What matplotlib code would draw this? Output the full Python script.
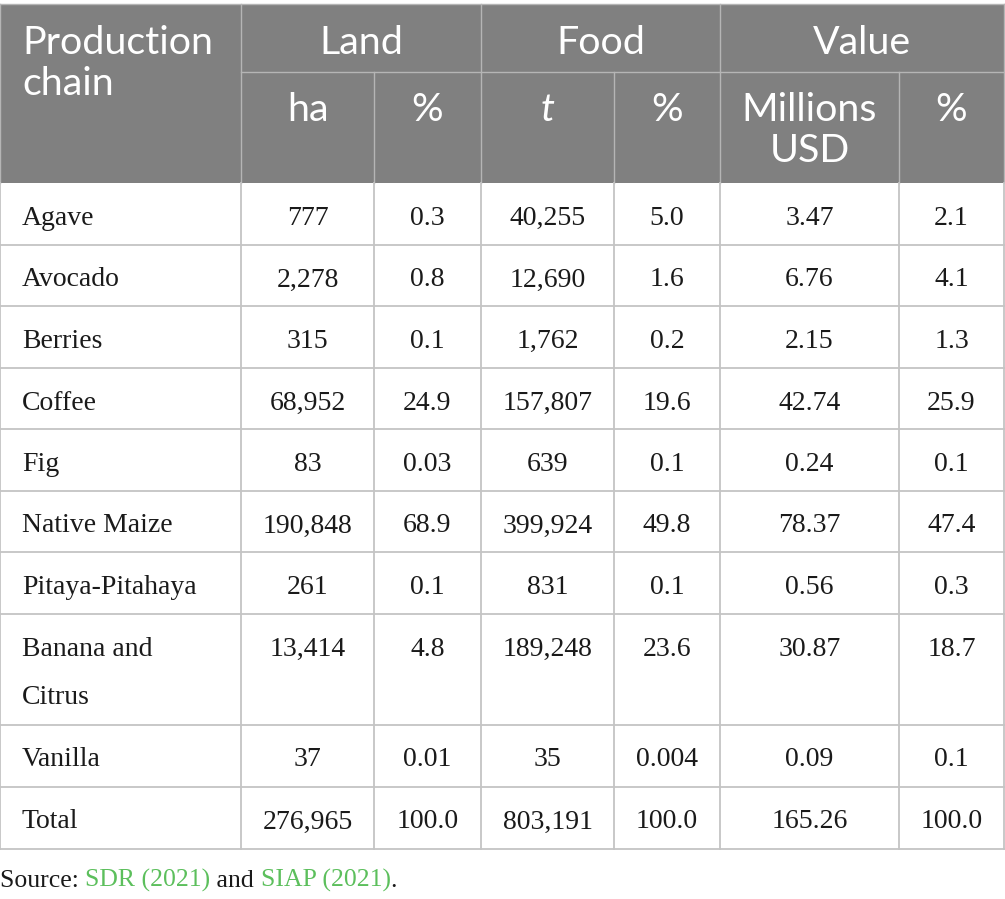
import matplotlib.pyplot as plt
from matplotlib.patches import Rectangle

# table data
chains = ["Agave", "Avocado", "Berries", "Coffee", "Fig", "Native Maize",
          "Pitaya-Pitahaya", "Banana and\nCitrus", "Vanilla", "Total"]
land_ha = ["777", "2,278", "315", "68,952", "83", "190,848", "261", "13,414", "37", "276,965"]
land_pct = ["0.3", "0.8", "0.1", "24.9", "0.03", "68.9", "0.1", "4.8", "0.01", "100.0"]
food_t = ["40,255", "12,690", "1,762", "157,807", "639", "399,924", "831", "189,248", "35", "803,191"]
food_pct = ["5.0", "1.6", "0.2", "19.6", "0.1", "49.8", "0.1", "23.6", "0.004", "100.0"]
value_usd = ["3.47", "6.76", "2.15", "42.74", "0.24", "78.37", "0.56", "30.87", "0.09", "165.26"]
value_pct = ["2.1", "4.1", "1.3", "25.9", "0.1", "47.4", "0.3", "18.7", "0.1", "100.0"]

first_header = "Production\nchain"
groups = ["Land", "Food", "Value"]
sub_headers = ["ha", "%", "t", "%", "Millions\nUSD", "%"]

# layout in pixels
col_x = [0, 241, 374, 481, 614, 720, 899, 1004]
row_h = [61.5, 61.5, 61.5, 61.5, 61.5, 61.5, 61.5, 111, 62, 62]
head_top, head_mid, head_bot = 4, 72, 183

header_bg = "#808080"
header_line = "#b5b5b5"
grid = "#c4c4c4"
green = "#5cbf5c"
ink = "#1a1a1a"
sans = ["Lato", "DejaVu Sans"]
serif = ["Liberation Serif", "DejaVu Serif"]


def lines(ax, x, y, text, step, **kw):
    # one text per line so each baseline sits where we want it
    for k, part in enumerate(text.split("\n")):
        ax.text(x, y + k * step, part, va="baseline", **kw)


fig = plt.figure(figsize=(10.05, 8.99), dpi=100)
ax = fig.add_axes([0, 0, 1, 1])
ax.set_xlim(0, 1005)
ax.set_ylim(899, 0)
ax.axis("off")

# header background
ax.add_patch(Rectangle((col_x[0], head_top), col_x[-1] - col_x[0], head_bot - head_top,
                       facecolor=header_bg, edgecolor="none"))

# header lines
ax.plot([col_x[1], col_x[-1]], [head_mid, head_mid], color=header_line, lw=1)
for i, x in enumerate(col_x):
    y0 = head_top if i in (0, 1, 3, 5, 7) else head_mid
    ax.plot([x, x], [y0, head_bot], color=header_line, lw=1)
ax.plot([col_x[0], col_x[-1]], [head_top, head_top], color=header_line, lw=1)

hsize = 28.4
hkw = dict(fontsize=hsize, family=sans, color="white")
lines(ax, 22, 54, first_header, 41, ha="left", **hkw)
for g, name in enumerate(groups):
    xc = (col_x[1 + 2 * g] + col_x[3 + 2 * g]) / 2
    ax.text(xc, 54, name, ha="center", va="baseline", **hkw)
for j, name in enumerate(sub_headers):
    xc = (col_x[1 + j] + col_x[2 + j]) / 2
    style = "italic" if name == "t" else "normal"
    lines(ax, xc, 121, name, 41, style=style, ha="center", **hkw)

# body rows
columns = [land_ha, land_pct, food_t, food_pct, value_usd, value_pct]
bsize = 20
y = head_bot
row_edges = [y]
for r, name in enumerate(chains):
    base = y + 42
    lines(ax, 22, base, name, 48, fontsize=bsize, family=serif, color=ink, ha="left")
    for j, col in enumerate(columns):
        xc = (col_x[1 + j] + col_x[2 + j]) / 2
        ax.text(xc, base, col[r], fontsize=bsize, family=serif, color=ink,
                ha="center", va="baseline")
    y += row_h[r]
    row_edges.append(y)

for ye in row_edges[1:]:
    ax.plot([col_x[0], col_x[-1]], [ye, ye], color=grid, lw=1.3)
for x in col_x:
    ax.plot([x, x], [head_bot, row_edges[-1]], color=grid, lw=1.3)

# source line
src_y = 887
parts = [("Source: ", ink), ("SDR (2021)", green), (" and ", ink),
         ("SIAP (2021)", green), (".", ink)]
fig.canvas.draw()
renderer = fig.canvas.get_renderer()
xpos = 0
for txt, c in parts:
    t = ax.text(xpos, src_y, txt, fontsize=18.5, family=serif, color=c,
                ha="left", va="baseline")
    xpos += t.get_window_extent(renderer=renderer).width

fig.savefig("out.png", dpi=100)
